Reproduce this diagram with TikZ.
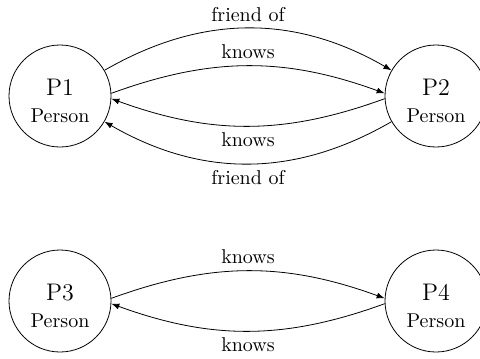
\documentclass[tikz,border=0pt]{standalone}
\usetikzlibrary{arrows.meta}
\begin{document}
\begin{tikzpicture}[x=0.5pt,y=-0.5pt,
  ent/.style={circle,draw,minimum size=51pt,inner sep=0pt,align=center},
  rel/.style={-{Latex[length=4pt,width=3pt]}}]
\useasboundingbox (0,0) rectangle (480,358);
\node[ent] (P1) at (60,96) {\rule{0pt}{13pt}{\large P1}\\[1.5pt]Person};
\node[ent] (P2) at (436,96) {\rule{0pt}{13pt}{\large P2}\\[1.5pt]Person};
\node[ent] (P3) at (60,301) {\rule{0pt}{13pt}{\large P3}\\[1.5pt]Person};
\node[ent] (P4) at (436,301) {\rule{0pt}{13pt}{\large P4}\\[1.5pt]Person};
\draw[rel] (P1) to[bend left=30] node[above] {friend of} (P2);
\draw[rel] (P1.3) to[out=20,in=160] node[above] {knows} (P2.177);
\draw[rel] (P2.183) to[out=200,in=-20] node[below] {knows} (P1.-3);
\draw[rel] (P2) to[bend left=30] node[below] {friend of} (P1);
\draw[rel] (P3.3) to[out=20,in=160] node[above] {knows} (P4.177);
\draw[rel] (P4.183) to[out=200,in=-20] node[below] {knows} (P3.-3);
\end{tikzpicture}
\end{document}
